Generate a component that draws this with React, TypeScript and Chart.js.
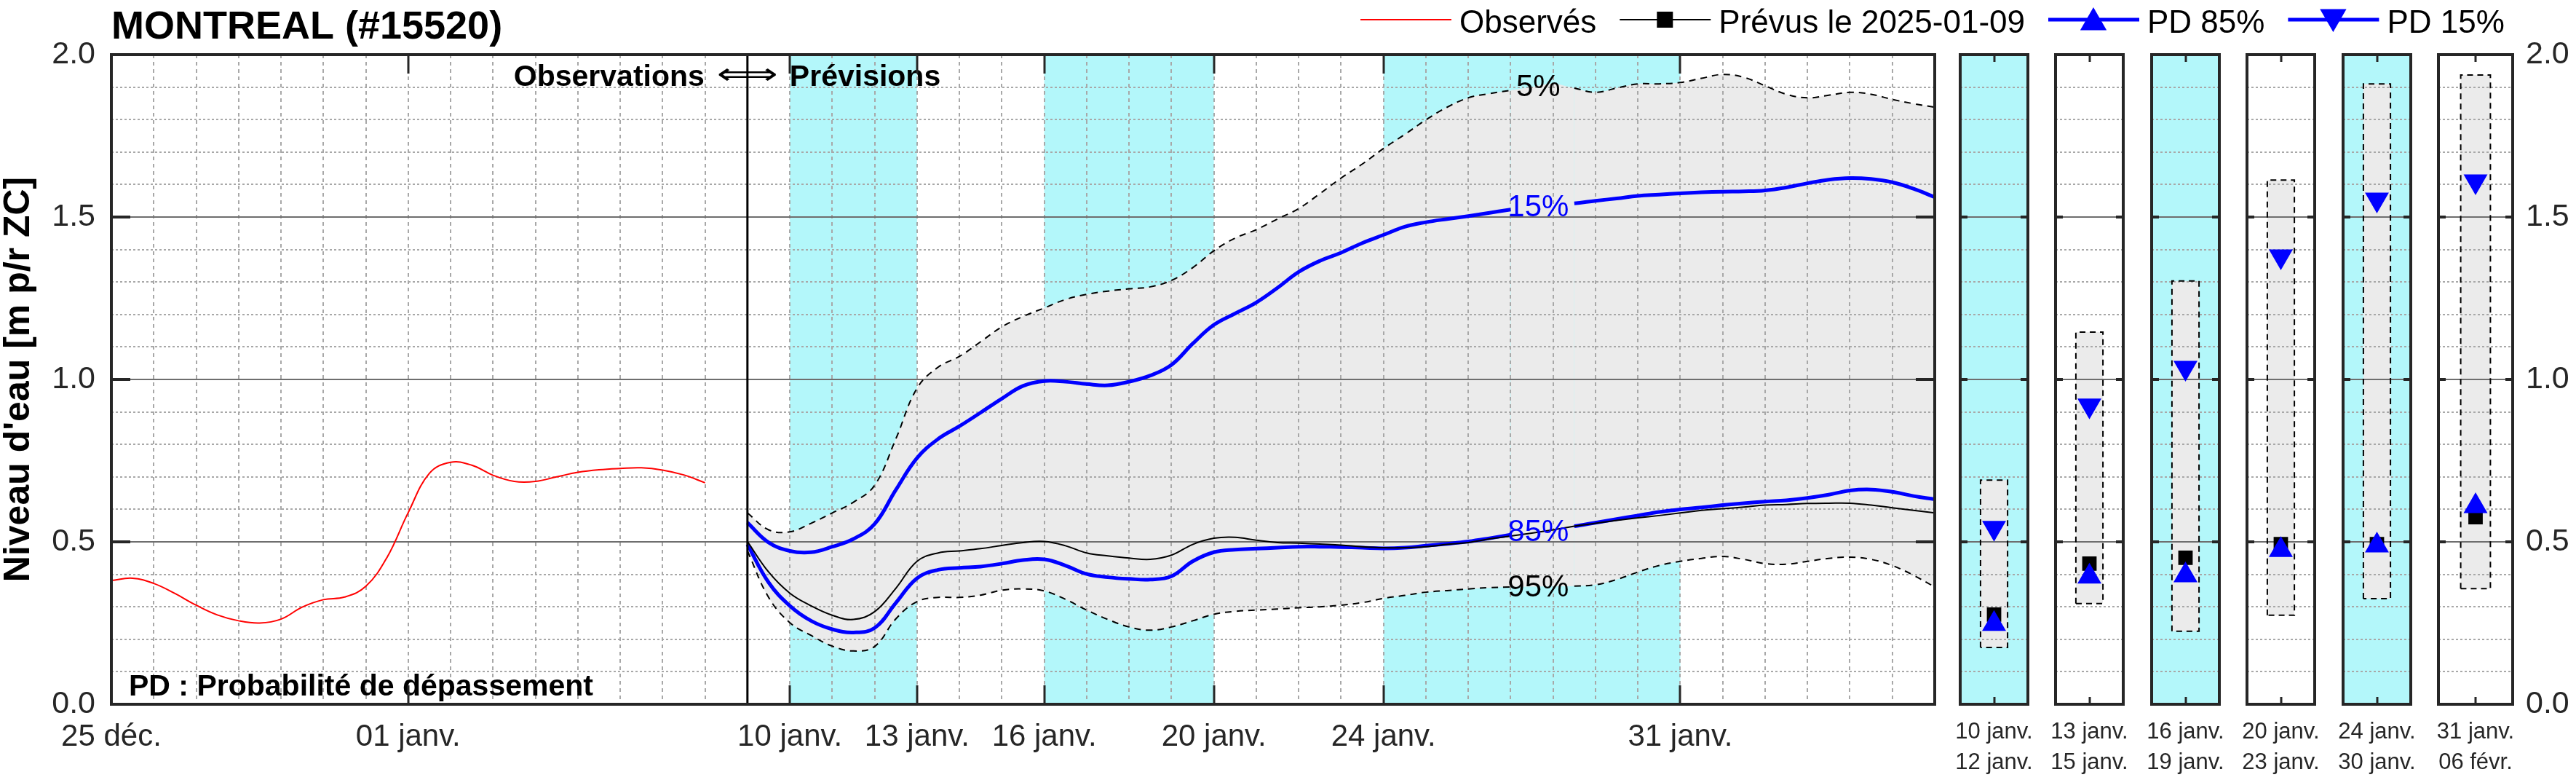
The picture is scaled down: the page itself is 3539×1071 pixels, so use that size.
import React, { useEffect, useRef } from "react";
import { Chart, registerables } from "chart.js";

Chart.register(...registerables);

// ---------------- data (days counted from 25 déc. 2024 = day 0) ----------------
const stationTitle = "MONTREAL (#15520)";
const forecastIssueDay = 15; // 2025-01-09

const obsDays = [0, 0.5, 1, 1.5, 2, 2.5, 3, 3.5, 4, 4.5, 5, 5.5, 6, 6.5, 7, 7.5, 8, 8.5, 9, 9.5, 10, 10.5, 11, 11.5, 12, 12.5, 13, 13.5, 14];
const obsLevels = [0.381, 0.388, 0.372, 0.341, 0.305, 0.275, 0.257, 0.25, 0.262, 0.299, 0.322, 0.33, 0.363, 0.452, 0.59, 0.711, 0.745, 0.736, 0.705, 0.686, 0.686, 0.7, 0.714, 0.722, 0.726, 0.728, 0.721, 0.706, 0.682];

const fcDays = [15, 15.5, 16, 16.5, 17, 17.5, 18, 18.5, 19, 19.5, 20, 20.5, 21, 21.5, 22, 22.5, 23, 23.5, 24, 24.5, 25, 25.5, 26, 26.5, 27, 27.5, 28, 28.5, 29, 29.5, 30, 30.5, 31, 31.5, 32, 32.5, 33, 33.5, 34, 34.5, 35, 35.5, 36, 36.5, 37, 37.5, 38, 38.5, 39, 39.5, 40, 40.5, 41, 41.5, 42, 42.5, 43];
const fcMain = [0.501, 0.407, 0.342, 0.303, 0.274, 0.261, 0.285, 0.357, 0.44, 0.466,
  0.472, 0.479, 0.489, 0.498, 0.501, 0.488, 0.466, 0.457, 0.45, 0.446,
  0.459, 0.492, 0.511, 0.514, 0.505, 0.498, 0.496, 0.493, 0.49, 0.485,
  0.482, 0.482, 0.485, 0.492, 0.498, 0.509, 0.518, 0.527, 0.537, 0.548,
  0.557, 0.566, 0.574, 0.581, 0.589, 0.597, 0.602, 0.607, 0.613, 0.615,
  0.618, 0.619, 0.619, 0.613, 0.605, 0.597, 0.589];
const fc85 = [0.492, 0.375, 0.303, 0.257, 0.231, 0.221, 0.235, 0.312, 0.388, 0.414,
  0.42, 0.424, 0.433, 0.444, 0.446, 0.427, 0.401, 0.391, 0.386, 0.384,
  0.394, 0.44, 0.468, 0.476, 0.479, 0.482, 0.485, 0.485, 0.484, 0.482,
  0.48, 0.482, 0.488, 0.494, 0.501, 0.511, 0.522, 0.531, 0.54, 0.548,
  0.559, 0.57, 0.581, 0.592, 0.6, 0.606, 0.613, 0.619, 0.624, 0.628,
  0.635, 0.645, 0.658, 0.661, 0.654, 0.641, 0.631];
const fc15 = [0.559, 0.498, 0.472, 0.468, 0.485, 0.509, 0.555, 0.66, 0.758, 0.817,
  0.856, 0.898, 0.941, 0.98, 0.995, 0.993, 0.986, 0.982, 0.993, 1.012,
  1.045, 1.11, 1.168, 1.203, 1.237, 1.282, 1.331, 1.365, 1.39, 1.42,
  1.445, 1.47, 1.484, 1.494, 1.503, 1.513, 1.523, 1.53, 1.537, 1.542,
  1.55, 1.557, 1.565, 1.569, 1.573, 1.576, 1.578, 1.579, 1.582, 1.591,
  1.604, 1.615, 1.62, 1.617, 1.607, 1.587, 1.561];
const fc5 = [0.589, 0.537, 0.531, 0.557, 0.589, 0.622, 0.674, 0.817, 0.973, 1.038,
  1.071, 1.116, 1.162, 1.194, 1.22, 1.246, 1.262, 1.272, 1.279, 1.285,
  1.305, 1.344, 1.396, 1.435, 1.461, 1.494, 1.526, 1.572, 1.62, 1.663,
  1.711, 1.754, 1.799, 1.838, 1.867, 1.88, 1.89, 1.9, 1.91, 1.897,
  1.884, 1.897, 1.91, 1.91, 1.914, 1.927, 1.939, 1.93, 1.904, 1.878,
  1.867, 1.875, 1.884, 1.878, 1.862, 1.849, 1.838];
const fc95 = [0.472, 0.329, 0.251, 0.212, 0.179, 0.164, 0.178, 0.263, 0.316, 0.329,
  0.329, 0.336, 0.351, 0.355, 0.349, 0.323, 0.29, 0.261, 0.238, 0.228,
  0.238, 0.257, 0.277, 0.286, 0.29, 0.293, 0.297, 0.3, 0.305, 0.313,
  0.326, 0.335, 0.345, 0.35, 0.355, 0.359, 0.361, 0.362, 0.363, 0.364,
  0.368, 0.384, 0.407, 0.427, 0.44, 0.449, 0.455, 0.446, 0.433, 0.431,
  0.44, 0.449, 0.453, 0.446, 0.427, 0.397, 0.361];

const xTickDays = [0, 7, 16, 19, 22, 26, 30, 37];
const xTickLabels = ["25 déc.", "01 janv.", "10 janv.", "13 janv.", "16 janv.", "20 janv.", "24 janv.", "31 janv."];
const yTicks = [0, 0.5, 1, 1.5, 2];

const bandStartDays = [16, 22, 30];
const bandEndDays = [19, 26, 37];

const periodStart = ["10 janv.", "13 janv.", "16 janv.", "20 janv.", "24 janv.", "31 janv."];
const periodEnd = ["12 janv.", "15 janv.", "19 janv.", "23 janv.", "30 janv.", "06 févr."];
const periodHighlight = [true, false, true, false, true, false];
const periodLow = [0.175, 0.31, 0.225, 0.274, 0.325, 0.356];
const periodHigh = [0.69, 1.146, 1.303, 1.614, 1.91, 1.937];
const periodFc = [0.276, 0.433, 0.451, 0.493, 0.493, 0.576];
const period85 = [0.247, 0.393, 0.397, 0.475, 0.489, 0.61];
const period15 = [0.543, 0.92, 1.036, 1.379, 1.554, 1.61];

// ---------------- style / layout ----------------
const FONT = "'Liberation Sans', Arial, Helvetica, sans-serif";
const W = 3539;
const H = 1071;
const PLOT = { left: 153, top: 75, right: 2658, bottom: 967 };
const CYAN = "#b3f7fa";
const GRAY_FILL = "#ebebeb";
const GRID = "#a8a8a8";
const MAJOR_LINE = "#6e6e6e";
const AXIS = "#262626";
const BLUE = "#0000ff";
const RED = "#ff0000";
const LABEL_DAY = 33.65;
const LABEL_GAP = [33, 34.5];
const PANEL_X0 = 2684;
const PANEL_STEP = 131.4;
const PANEL_W = 111;
const PANEL_PAD = 10;
const RIGHT_AXIS_W = 89;
const BOX_HALF = 0.2;

function interpAt(days: number[], vals: number[], d: number) {
  for (let i = 0; i < days.length - 1; i++) {
    if (d >= days[i] && d <= days[i + 1]) {
      const t = (d - days[i]) / (days[i + 1] - days[i]);
      return vals[i] + t * (vals[i + 1] - vals[i]);
    }
  }
  return vals[vals.length - 1];
}

function seg(ctx: any, x0: number, y0: number, x1: number, y1: number) {
  ctx.beginPath();
  ctx.moveTo(x0, y0);
  ctx.lineTo(x1, y1);
  ctx.stroke();
}

function triangle(ctx: any, cx: number, cy: number, r: number, down: boolean) {
  const s = down ? -1 : 1;
  ctx.beginPath();
  ctx.moveTo(cx, cy - s * r);
  ctx.lineTo(cx + 0.866 * r, cy + s * 0.5 * r);
  ctx.lineTo(cx - 0.866 * r, cy + s * 0.5 * r);
  ctx.closePath();
  ctx.fill();
}

function drawHGrid(chart: any) {
  const { ctx, chartArea: a, scales } = chart;
  const y = scales.y;
  ctx.save();
  ctx.lineWidth = 2;
  ctx.strokeStyle = GRID;
  ctx.setLineDash([3, 3]);
  for (let k = 1; k < 20; k++) {
    if (k % 5 === 0) continue;
    const py = Math.round(y.getPixelForValue(k / 10));
    seg(ctx, a.left, py, a.right, py);
  }
  ctx.setLineDash([]);
  ctx.strokeStyle = MAJOR_LINE;
  yTicks.forEach((v) => {
    if (v <= y.min || v >= y.max) return;
    const py = Math.round(y.getPixelForValue(v));
    seg(ctx, a.left, py, a.right, py);
  });
  ctx.restore();
}

function drawEndTicks(chart: any, len: number) {
  const { ctx, chartArea: a, scales } = chart;
  const y = scales.y;
  ctx.save();
  ctx.strokeStyle = AXIS;
  ctx.lineWidth = 4;
  yTicks.forEach((v) => {
    if (v <= y.min || v >= y.max) return;
    const py = Math.round(y.getPixelForValue(v));
    seg(ctx, a.left, py, a.left + len, py);
    seg(ctx, a.right - len, py, a.right, py);
  });
  ctx.lineWidth = 4;
  ctx.strokeRect(a.left, a.top, a.right - a.left, a.bottom - a.top);
  ctx.restore();
}

const yTickOpts = {
  callback: (v: any) => Number(v).toFixed(1),
  font: { size: 43 },
  color: AXIS,
  padding: 22,
};

// ---------------- main chart ----------------
const mainDecor = {
  id: "mainDecor",
  beforeDraw(chart: any) {
    const { ctx, chartArea: a, scales } = chart;
    const x = scales.x;
    ctx.save();
    ctx.fillStyle = CYAN;
    bandStartDays.forEach((s, i) => {
      const x0 = x.getPixelForValue(s);
      const x1 = x.getPixelForValue(bandEndDays[i]);
      ctx.fillRect(x0, a.top, x1 - x0, a.bottom - a.top);
    });
    ctx.restore();
  },
  beforeDatasetsDraw(chart: any) {
    const { ctx, chartArea: a, scales } = chart;
    const x = scales.x;
    ctx.save();
    ctx.lineWidth = 2;
    ctx.strokeStyle = GRID;
    ctx.setLineDash([5, 5]);
    for (let d = Math.ceil(x.min) + 1; d < x.max; d++) {
      if (d === forecastIssueDay) continue;
      const px = Math.round(x.getPixelForValue(d));
      seg(ctx, px, a.top, px, a.bottom);
    }
    ctx.restore();
    drawHGrid(chart);
  },
  afterDraw(chart: any) {
    const { ctx, chartArea: a, scales } = chart;
    const x = scales.x;
    const y = scales.y;
    ctx.save();
    const sx = x.getPixelForValue(forecastIssueDay);
    // annotation text
    ctx.fillStyle = "#000";
    ctx.textBaseline = "alphabetic";
    ctx.font = `bold 41px ${FONT}`;
    ctx.textAlign = "right";
    ctx.fillText("Observations", sx - 59, a.top + 43);
    ctx.textAlign = "left";
    ctx.fillText("Prévisions", sx + 58, a.top + 43);
    // double arrow, stretched to the reference width
    ctx.font = `40px 'DejaVu Sans', ${FONT}`;
    const aw = ctx.measureText("⟺").width || 1;
    ctx.save();
    ctx.translate(sx, a.top + 40);
    ctx.scale(84 / aw, 1);
    ctx.textAlign = "center";
    ctx.fillText("⟺", 0, 0);
    ctx.restore();
    // separator observations / forecasts
    ctx.strokeStyle = "#000";
    ctx.lineWidth = 3;
    seg(ctx, sx, a.top, sx, a.bottom);

    ctx.textAlign = "left";
    ctx.font = `bold 41px ${FONT}`;
    ctx.fillText("PD : Probabilité de dépassement", a.left + 24, a.bottom - 12);

    // percentile labels on curves
    ctx.font = `42px ${FONT}`;
    ctx.textAlign = "center";
    ctx.textBaseline = "middle";
    const lx = x.getPixelForValue(LABEL_DAY);
    const labs: [string, number[], string][] = [
      ["5%", fc5, "#000"],
      ["15%", fc15, BLUE],
      ["85%", fc85, BLUE],
      ["95%", fc95, "#000"],
    ];
    labs.forEach(([t, arr, col]) => {
      ctx.fillStyle = col;
      ctx.fillText(t, lx, y.getPixelForValue(interpAt(fcDays, arr, LABEL_DAY)) + 2);
    });

    // major x ticks
    ctx.strokeStyle = AXIS;
    ctx.lineWidth = 3;
    xTickDays.forEach((d) => {
      if (d <= x.min || d >= x.max) return;
      const px = Math.round(x.getPixelForValue(d));
      seg(ctx, px, a.bottom, px, a.bottom - 26);
      seg(ctx, px, a.top, px, a.top + 26);
    });
    ctx.restore();
    drawEndTicks(chart, 26);

    // title
    ctx.save();
    ctx.fillStyle = "#000";
    ctx.textAlign = "left";
    ctx.textBaseline = "alphabetic";
    ctx.font = `bold 54px ${FONT}`;
    ctx.fillText(stationTitle, a.left, 53);

    // legend
    const ds = chart.data.datasets;
    const markers = ["none", "square", "up", "down"];
    let lxp = 1869;
    const ly = 27;
    ctx.font = `44px ${FONT}`;
    markers.forEach((m, i) => {
      const d = ds[i];
      ctx.strokeStyle = d.borderColor;
      ctx.lineWidth = d.borderWidth;
      seg(ctx, lxp, ly, lxp + 125, ly);
      const cx = lxp + 62;
      ctx.fillStyle = d.borderColor;
      if (m === "square") ctx.fillRect(cx - 11, ly - 11, 22, 22);
      if (m === "up") triangle(ctx, cx, ly + 4, 21, false);
      if (m === "down") triangle(ctx, cx, ly - 4, 21, true);
      ctx.fillStyle = "#000";
      ctx.fillText(d.label, lxp + 136, 45);
      lxp = lxp + 136 + ctx.measureText(d.label).width + 32;
    });
    ctx.restore();
  },
};

function mainConfig(): any {
  const toXY = (days: number[], vals: number[]) => days.map((d, i) => ({ x: d, y: vals[i] }));
  const inGap = (c: any) => c.p0.parsed.x >= LABEL_GAP[0] - 1e-9 && c.p1.parsed.x <= LABEL_GAP[1] + 1e-9;
  const gapSeg = { borderColor: (c: any) => (inGap(c) ? "rgba(0,0,0,0)" : undefined) };
  const common = { pointRadius: 0, tension: 0.4, fill: false };
  return {
    type: "line",
    data: {
      datasets: [
        { ...common, label: "Observés", data: toXY(obsDays, obsLevels), borderColor: RED, borderWidth: 2 },
        { ...common, label: "Prévus le 2025-01-09", data: toXY(fcDays, fcMain), borderColor: "#000", borderWidth: 2 },
        { ...common, label: "PD 85%", data: toXY(fcDays, fc85), borderColor: BLUE, borderWidth: 5, segment: gapSeg },
        { ...common, label: "PD 15%", data: toXY(fcDays, fc15), borderColor: BLUE, borderWidth: 5, segment: gapSeg },
        { ...common, label: "PD 5%", data: toXY(fcDays, fc5), borderColor: "#000", borderWidth: 2, borderDash: [9, 7], segment: gapSeg },
        { ...common, label: "PD 95%", data: toXY(fcDays, fc95), borderColor: "#000", borderWidth: 2, borderDash: [9, 7], segment: gapSeg, fill: "-1", backgroundColor: GRAY_FILL },
      ],
    },
    options: {
      responsive: false,
      animation: false,
      devicePixelRatio: 1,
      events: [],
      layout: { padding: { top: PLOT.top, right: W - PLOT.right, left: 0, bottom: 0 } },
      plugins: {
        legend: { display: false },
        tooltip: { enabled: false },
        filler: { drawTime: "beforeDatasetsDraw" },
      },
      scales: {
        x: {
          type: "linear",
          min: 0,
          max: 43,
          afterBuildTicks: (s: any) => {
            s.ticks = xTickDays.map((v) => ({ value: v }));
          },
          afterFit: (s: any) => {
            s.height = H - PLOT.bottom;
          },
          ticks: {
            autoSkip: false,
            maxRotation: 0,
            minRotation: 0,
            callback: (v: any) => {
              const k = xTickDays.indexOf(Number(v));
              return k >= 0 ? xTickLabels[k] : "";
            },
            font: { size: 42 },
            color: AXIS,
            padding: 20,
          },
          grid: { display: false, drawTicks: false },
          border: { display: false },
        },
        y: {
          min: 0,
          max: 2,
          afterBuildTicks: (s: any) => {
            s.ticks = yTicks.map((v) => ({ value: v }));
          },
          afterFit: (s: any) => {
            s.width = PLOT.left;
          },
          ticks: yTickOpts,
          grid: { display: false, drawTicks: false },
          border: { display: false },
          title: {
            display: true,
            text: "Niveau d'eau [m p/r ZC]",
            color: "#000",
            font: { size: 50, weight: "bold", lineHeight: 1.04 },
            padding: { top: 0, bottom: 0 },
          },
        },
      },
    },
    plugins: [mainDecor],
  };
}

// ---------------- side panels ----------------
function panelGeom(i: number) {
  const last = i === periodStart.length - 1;
  const left = Math.round(PANEL_X0 + i * PANEL_STEP) - PANEL_PAD;
  const w = PANEL_PAD + PANEL_W + (last ? RIGHT_AXIS_W : PANEL_PAD);
  return { left, w, last };
}

function panelConfig(i: number): any {
  const { last } = panelGeom(i);
  const lo = periodLow[i];
  const hi = periodHigh[i];
  const boxPath = [
    { x: 0.5 - BOX_HALF, y: lo },
    { x: 0.5 - BOX_HALF, y: hi },
    { x: 0.5 + BOX_HALF, y: hi },
    { x: 0.5 + BOX_HALF, y: lo },
    { x: 0.5 - BOX_HALF, y: lo },
  ];
  const decor = {
    id: "panelDecor" + i,
    beforeDraw(chart: any) {
      if (!periodHighlight[i]) return;
      const { ctx, chartArea: a } = chart;
      ctx.save();
      ctx.fillStyle = CYAN;
      ctx.fillRect(a.left, a.top, a.right - a.left, a.bottom - a.top);
      ctx.restore();
    },
    beforeDatasetsDraw(chart: any) {
      drawHGrid(chart);
    },
    afterDraw(chart: any) {
      const { ctx, chartArea: a, scales } = chart;
      const cx = Math.round(scales.x.getPixelForValue(0.5));
      ctx.save();
      ctx.strokeStyle = AXIS;
      ctx.lineWidth = 3;
      seg(ctx, cx, a.bottom, cx, a.bottom - 10);
      seg(ctx, cx, a.top, cx, a.top + 10);
      ctx.restore();
      drawEndTicks(chart, 10);
    },
  };
  return {
    type: "scatter",
    data: {
      datasets: [
        { label: "PD 85%", data: [{ x: 0.5, y: period85[i] }], pointStyle: "triangle", pointRadius: 19, pointRotation: 0, pointBackgroundColor: BLUE, pointBorderWidth: 0 },
        { label: "PD 15%", data: [{ x: 0.5, y: period15[i] }], pointStyle: "triangle", pointRadius: 19, pointRotation: 180, pointBackgroundColor: BLUE, pointBorderWidth: 0 },
        { label: "Prévus", data: [{ x: 0.5, y: periodFc[i] }], pointStyle: "rect", pointRadius: 14, pointBackgroundColor: "#000", pointBorderWidth: 0 },
        { label: "PD 5% - 95%", data: boxPath, showLine: true, pointRadius: 0, borderColor: "#000", borderWidth: 2, borderDash: [8, 6], tension: 0, fill: "shape", backgroundColor: GRAY_FILL },
      ],
    },
    options: {
      responsive: false,
      animation: false,
      devicePixelRatio: 1,
      events: [],
      layout: { padding: { top: PLOT.top, left: PANEL_PAD, right: last ? 0 : PANEL_PAD, bottom: 0 } },
      plugins: {
        legend: { display: false },
        tooltip: { enabled: false },
        filler: { drawTime: "beforeDatasetsDraw" },
      },
      scales: {
        x: {
          type: "linear",
          min: 0,
          max: 1,
          afterBuildTicks: (s: any) => {
            s.ticks = [{ value: 0.5 }];
          },
          afterFit: (s: any) => {
            s.height = H - PLOT.bottom;
            s.paddingLeft = 0;
            s.paddingRight = 0;
          },
          ticks: {
            autoSkip: false,
            maxRotation: 0,
            minRotation: 0,
            callback: () => [periodStart[i], periodEnd[i]],
            font: { size: 31, lineHeight: 1.35 },
            color: AXIS,
            padding: 18,
          },
          grid: { display: false, drawTicks: false },
          border: { display: false },
        },
        y: {
          min: 0,
          max: 2,
          display: last,
          position: "right",
          afterBuildTicks: (s: any) => {
            s.ticks = yTicks.map((v) => ({ value: v }));
          },
          afterFit: (s: any) => {
            s.width = last ? RIGHT_AXIS_W : 0;
            s.paddingTop = 0;
            s.paddingBottom = 0;
          },
          ticks: { ...yTickOpts, padding: 18 },
          grid: { display: false, drawTicks: false },
          border: { display: false },
        },
      },
    },
    plugins: [decor],
  };
}

export default function App() {
  const mainRef = useRef<HTMLCanvasElement | null>(null);
  const panelRefs = useRef<(HTMLCanvasElement | null)[]>([]);

  useEffect(() => {
    document.body.style.margin = "0";
    document.body.style.background = "#fff";
    Chart.defaults.font.family = FONT;
    const charts: any[] = [];
    if (mainRef.current) charts.push(new Chart(mainRef.current, mainConfig()));
    periodStart.forEach((_, i) => {
      const c = panelRefs.current[i];
      if (c) charts.push(new Chart(c, panelConfig(i)));
    });
    return () => charts.forEach((c) => c.destroy());
  }, []);

  return (
    <div style={{ position: "relative", width: W, height: H, background: "#fff", overflow: "hidden" }}>
      <canvas ref={mainRef} width={W} height={H} style={{ position: "absolute", left: 0, top: 0, width: W, height: H }} />
      {periodStart.map((_, i) => {
        const g = panelGeom(i);
        return (
          <canvas
            key={i}
            ref={(el) => {
              panelRefs.current[i] = el;
            }}
            width={g.w}
            height={H}
            style={{ position: "absolute", left: g.left, top: 0, width: g.w, height: H }}
          />
        );
      })}
    </div>
  );
}
